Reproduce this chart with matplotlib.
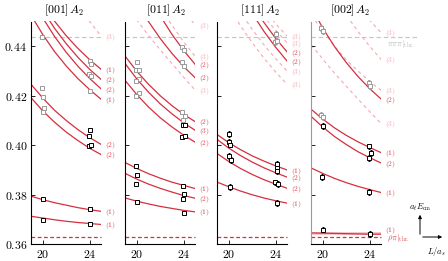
import matplotlib
matplotlib.use("Agg")
import matplotlib.pyplot as plt

plt.rcParams['mathtext.fontset'] = 'cm'
plt.rcParams['font.family'] = 'serif'

# box sizes L/a_s where the curves are sampled
L_grid = [19, 20, 21, 22, 23, 24, 25]

titles = [r'$[001]\,A_2$', r'$[011]\,A_2$', r'$[111]\,A_2$', r'$[002]\,A_2$']
title_x = [0.467, 0.58, 0.61, 0.55]

# ---- panel 1 : [001]
p1_curves = [
    [0.4649, 0.4570, 0.4501, 0.4442, 0.4391, 0.4346, 0.4306],
    [0.4628, 0.4544, 0.4472, 0.4410, 0.4355, 0.4307, 0.4265],
    [0.4598, 0.4513, 0.4439, 0.4375, 0.4319, 0.4270, 0.4227],
    [0.4524, 0.4446, 0.4378, 0.4320, 0.4269, 0.4225, 0.4185],
    [0.4245, 0.4190, 0.4141, 0.4100, 0.4063, 0.4031, 0.4003],
    [0.4191, 0.4138, 0.4093, 0.4053, 0.4019, 0.3988, 0.3962],
    [0.3794, 0.3780, 0.3768, 0.3758, 0.3748, 0.3740, 0.3733],
    [0.3713, 0.3706, 0.3699, 0.3693, 0.3688, 0.3684, 0.3680],
]
p1_labels = ['(1)', '(2)', '(2)', '(1)', '(2)', '(2)', '(1)', '(1)']
p1_faint = [
    [0.486, 0.478, 0.4705, 0.4635, 0.4565, 0.4500, 0.4440],
]
p1_faint_labels = ['(3)']
p1_gray_L = [19.95, 19.94, 20.0, 20.09, 20.03, 24.0, 24.09, 23.94, 24.09, 24.0]
p1_gray_E = [0.4438, 0.4232, 0.4195, 0.4151, 0.4135, 0.4342, 0.4330, 0.4286, 0.4279, 0.4218]
p1_black_L = [20.0, 20.0, 24.0, 23.91, 23.91, 24.09, 24.0, 24.0]
p1_black_E = [0.3783, 0.3700, 0.4061, 0.4036, 0.3996, 0.4002, 0.3743, 0.3684]
p1_err = 0.0004

# ---- panel 2 : [011]
p2_curves = [
    [0.4817, 0.4704, 0.4606, 0.4522, 0.4448, 0.4383, 0.4326],
    [0.4671, 0.4579, 0.4499, 0.4431, 0.4371, 0.4318, 0.4272],
    [0.4359, 0.4298, 0.4246, 0.4200, 0.4160, 0.4125, 0.4095],
    [0.4329, 0.4267, 0.4214, 0.4167, 0.4127, 0.4091, 0.4060],
    [0.4261, 0.4204, 0.4154, 0.4111, 0.4074, 0.4041, 0.4012],
    [0.3930, 0.3906, 0.3885, 0.3867, 0.3851, 0.3838, 0.3825],
    [0.3886, 0.3863, 0.3843, 0.3826, 0.3811, 0.3797, 0.3786],
    [0.3787, 0.3774, 0.3763, 0.3753, 0.3745, 0.3737, 0.3731],
]
p2_labels = ['(2)', '(2)', '(2)', '(3)', '(2)', '(1)', '(2)', '(1)']
p2_faint = [
    [0.486, 0.480, 0.474, 0.467, 0.4610, 0.4545, 0.4485],
    [0.476, 0.469, 0.462, 0.4555, 0.4485, 0.4418, 0.4358],
    [0.4575, 0.4505, 0.4443, 0.4385, 0.4330, 0.4275, 0.4222],
]
p2_faint_labels = ['(3)', '(3)', '(3)']
p2_gray_L = [20.0, 19.94, 20.2, 20.14, 19.94, 20.2, 19.94, 23.86, 24.03, 23.86, 24.03, 23.86, 24.09, 23.91]
p2_gray_E = [0.4335, 0.4303, 0.4303, 0.4269, 0.4259, 0.4211, 0.4201, 0.4396, 0.4384, 0.4335, 0.4319, 0.4133, 0.4120, 0.4104]
p2_black_L = [23.91, 24.09, 23.86, 24.09, 23.91, 24.0, 23.91, 24.0, 19.94, 20.0, 19.94, 20.0]
p2_black_E = [0.4083, 0.4083, 0.4034, 0.4036, 0.3837, 0.3805, 0.3783, 0.3727, 0.3915, 0.3881, 0.3845, 0.3771]
p2_err = 0.0004

# ---- panel 3 : [111]
p3_curves = [
    [0.4825, 0.4713, 0.4616, 0.4532, 0.4460, 0.4396, 0.4339],
    [0.4859, 0.4748, 0.4652, 0.4568, 0.4496, 0.4432, 0.4376],
    [0.4043, 0.4010, 0.3982, 0.3957, 0.3936, 0.3917, 0.3900],
    [0.4023, 0.3988, 0.3958, 0.3932, 0.3909, 0.3889, 0.3871],
    [0.3966, 0.3934, 0.3906, 0.3882, 0.3861, 0.3843, 0.3826],
    [0.3851, 0.3832, 0.3815, 0.3800, 0.3787, 0.3776, 0.3766],
]
p3_labels = ['(2)', '(2)', '(1)', '(2)', '(2)', '(1)']
p3_faint = [
    [0.478, 0.472, 0.467, 0.4610, 0.4547, 0.4491, 0.4440],
    [0.475, 0.469, 0.464, 0.4583, 0.4520, 0.4464, 0.4413],
    [0.4690, 0.4612, 0.4536, 0.4468, 0.4406, 0.4350, 0.4299],
    [0.4640, 0.4557, 0.4482, 0.4414, 0.4352, 0.4296, 0.4245],
]
p3_faint_labels = ['(3)', '(3)', '(3)', '(3)']
p3_gray_L = [24.0, 23.94, 24.14]
p3_gray_E = [0.4451, 0.4418, 0.4423]
p3_black_L = [20.0, 20.0, 20.09, 20.0, 20.2, 20.09, 24.09, 24.09, 24.09, 23.94, 24.2, 24.09]
p3_black_E = [0.4046, 0.4014, 0.4003, 0.3956, 0.3940, 0.3831, 0.3926, 0.3910, 0.3896, 0.3850, 0.3844, 0.3767]
p3_err = 0.0011

# ---- panel 4 : [002]
p4_curves = [
    [0.4558, 0.4472, 0.4398, 0.4334, 0.4278, 0.4229, 0.4186],
    [0.4145, 0.4105, 0.4070, 0.4040, 0.4014, 0.3991, 0.3970],
    [0.4116, 0.4073, 0.4035, 0.4003, 0.3974, 0.3950, 0.3928],
    [0.3908, 0.3886, 0.3866, 0.3849, 0.3834, 0.3821, 0.3809],
    [0.3646, 0.3645, 0.3644, 0.3643, 0.3642, 0.3641, 0.3641],
]
p4_labels = ['(2)', '(1)', '(2)', '(1)', '(1)']
p4_faint = [
    [0.478, 0.473, 0.468, 0.4620, 0.4561, 0.4505, 0.4454],
    [0.472, 0.466, 0.4596, 0.4526, 0.4460, 0.4400, 0.4346],
    [0.4525, 0.4460, 0.4400, 0.4345, 0.4300, 0.4258, 0.4221],
    [0.4405, 0.4347, 0.4291, 0.4238, 0.4187, 0.4136, 0.4087],
]
p4_faint_labels = ['(3)', '(3)', '(3)', '(3)']
p4_gray_L = [19.86, 20.0, 19.8, 20.0, 23.94, 24.0]
p4_gray_E = [0.4474, 0.4461, 0.4124, 0.4113, 0.4252, 0.4239]
p4_black_L = [20.0, 19.94, 20.0, 23.94, 24.09, 23.94, 23.94, 24.0]
p4_black_E = [0.4077, 0.3871, 0.3659, 0.3996, 0.3969, 0.3949, 0.3811, 0.3642]
p4_err = 0.0011

thr_3pi = 0.4437   # pi pi pi threshold
thr_rhopi = 0.3631  # rho pi threshold

panels = [
    (p1_curves, p1_labels, p1_faint, p1_faint_labels, p1_gray_L, p1_gray_E, p1_black_L, p1_black_E, p1_err),
    (p2_curves, p2_labels, p2_faint, p2_faint_labels, p2_gray_L, p2_gray_E, p2_black_L, p2_black_E, p2_err),
    (p3_curves, p3_labels, p3_faint, p3_faint_labels, p3_gray_L, p3_gray_E, p3_black_L, p3_black_E, p3_err),
    (p4_curves, p4_labels, p4_faint, p4_faint_labels, p4_gray_L, p4_gray_E, p4_black_L, p4_black_E, p4_err),
]

red = '#d62f3f'
red_txt = '#d94553'
pink = '#f3a9b0'
gray_pt = '#9a9a9a'
gray_line = '#c4c4c4'
lab_size = 5.4

W, H = 448, 261
fig = plt.figure(figsize=(W / 100, H / 100), dpi=100)
lefts = [31.3, 125.3, 217.3, 311.3]

for i, (curves, labels, faint, faint_labels, gL, gE, bL, bE, err) in enumerate(panels):
    ax = fig.add_axes([lefts[i] / W, 16.7 / H, 70 / W, 222.8 / H])
    ax.set_xlim(19, 25)
    ax.set_ylim(0.36, 0.45)
    for s in ['top', 'right']:
        ax.spines[s].set_visible(False)
    ax.spines['left'].set_linewidth(0.8)
    ax.spines['bottom'].set_linewidth(0.8)
    if i == 3:
        ax.spines['left'].set_color('#9a9a9a')
    ax.set_xticks([20, 24])
    ax.set_xticklabels([r'$20$', r'$24$'], fontsize=8.5)
    ax.set_yticks([0.36, 0.38, 0.40, 0.42, 0.44])
    if i == 0:
        ax.set_yticklabels([r'$0.36$', r'$0.38$', r'$0.40$', r'$0.42$', r'$0.44$'], fontsize=8.5)
    else:
        ax.set_yticklabels([])
    ax.tick_params(direction='in', length=3, width=0.6, pad=3)
    ax.text(title_x[i], 1.015, titles[i], transform=ax.transAxes, ha='center', va='bottom', fontsize=8.5)

    # thresholds
    x_end = 28.1 if i == 3 else 25
    ax.plot([19, x_end], [thr_3pi, thr_3pi], color=gray_line, lw=0.8, ls=(0, (4, 2.5)), clip_on=False, zorder=1)
    ax.plot([19, 25], [thr_rhopi, thr_rhopi], color=red, lw=0.9, ls=(0, (3, 2)), clip_on=False, zorder=1)

    # faint three-particle levels
    for vals, lab in zip(faint, faint_labels):
        ax.plot(L_grid, vals, color=pink, lw=0.8, ls=(0, (3, 3)), zorder=1)
        ax.text(25.3, vals[-1] - 0.0004, r'$' + lab + '$', color=pink, fontsize=lab_size,
                ha='left', va='center', clip_on=False)

    # non-interacting levels
    for vals, lab in zip(curves, labels):
        ax.plot(L_grid, vals, color=red, lw=0.9, zorder=2)
        y_lab = vals[-1] - 0.0004
        if i == 3 and lab == '(1)' and vals[-1] < 0.37:
            y_lab = 0.3657
        ax.text(25.3, y_lab, r'$' + lab + '$', color=red_txt, fontsize=lab_size,
                ha='left', va='center', clip_on=False)

    if i == 3:
        ax.fill_between([19, 25], [0.3637, 0.3637], [0.3649, 0.3649], color='#f7c9cd', lw=0, zorder=1)
        ax.text(25.5, 0.4433, r'$\pi\pi\pi|_{\rm thr.}$', color='#b8b8b8', fontsize=6, ha='left', va='top', clip_on=False)
        ax.text(25.5, 0.3624, r'$\rho\pi|_{\rm thr.}$', color=red_txt, fontsize=6, ha='left', va='center', clip_on=False)

    # lattice energies
    ax.errorbar(gL, gE, yerr=err, fmt='s', ms=2.4, mfc='white', mec=gray_pt, mew=0.7,
                ecolor=gray_pt, elinewidth=0.6, capsize=1.0, capthick=0.6, zorder=3)
    ax.errorbar(bL, bE, yerr=err, fmt='s', ms=2.4, mfc='white', mec='black', mew=0.7,
                ecolor='black', elinewidth=0.6, capsize=1.0, capthick=0.6, zorder=4)

# axis key in the corner
ox, oy = 420 / W, 1 - 237 / H
fig.add_artist(matplotlib.patches.FancyArrowPatch((ox, oy), (ox, 1 - 212 / H), transform=fig.transFigure,
                                                  arrowstyle='-|>', mutation_scale=5, lw=0.7, color='black'))
fig.add_artist(matplotlib.patches.FancyArrowPatch((ox, oy), (445 / W, oy), transform=fig.transFigure,
                                                  arrowstyle='-|>', mutation_scale=5, lw=0.7, color='black'))
fig.text(420 / W, 1 - 207 / H, r'$a_t E_{\rm cm}$', fontsize=6, ha='center', va='center')
fig.text(436 / W, 1 - 252 / H, r'$L/a_s$', fontsize=6, ha='center', va='center')

fig.savefig('out.png', dpi=100)
